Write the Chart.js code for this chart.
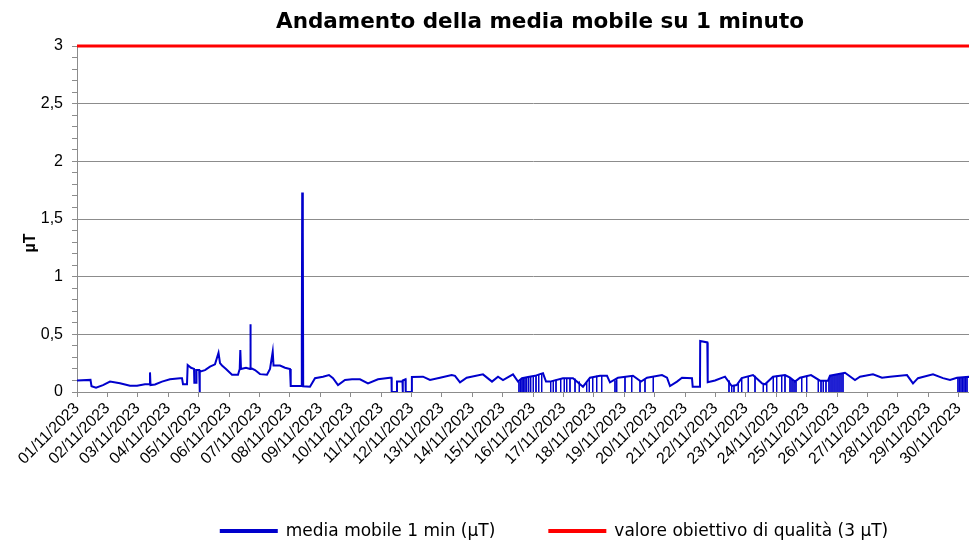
<!DOCTYPE html>
<html>
<head>
<meta charset="utf-8">
<title>Andamento della media mobile su 1 minuto</title>
<script src="https://cdn.jsdelivr.net/npm/chart.js@4.4.0/dist/chart.umd.min.js"></script>
<style>
    html, body { margin: 0; padding: 0; background: #fff; overflow: hidden; }
    #wrap { width: 969px; height: 542px; overflow: hidden; }
    canvas { display: block; }
</style>
</head>
<body>
<div id="wrap"><canvas id="chart" width="1080" height="542"></canvas></div>
<script>
// giorni trascorsi dal 01/11/2023 00:00 e media mobile 1 min (µT)
const days = [
    0, 0.444, 0.477, 0.625, 0.855, 1.086, 1.414, 1.743, 1.974, 2.237,
    2.385, 2.401, 2.418, 2.566, 2.796, 3.059, 3.388, 3.454, 3.487, 3.618,
    3.641, 3.75, 3.85, 3.86, 3.92, 3.93, 4.02, 4.03, 4.046, 4.211,
    4.375, 4.539, 4.655, 4.704, 4.770, 4.901, 5.099, 5.296, 5.352, 5.372,
    5.395, 5.559, 5.691, 5.701, 5.717, 5.855, 6.020, 6.250, 6.349, 6.438,
    6.464, 6.678, 6.842, 7.007, 7.030, 7.378, 7.395, 7.408, 7.428, 7.441,
    7.664, 7.829, 8.092, 8.289, 8.421, 8.586, 8.816, 9.046, 9.309, 9.572,
    9.901, 10.296, 10.345, 10.352, 10.516, 10.526, 10.707, 10.714, 10.720, 10.806,
    10.813, 11.010, 11.016, 11.382, 11.612, 11.941, 12.326, 12.434, 12.599, 12.819,
    13.355, 13.651, 13.849, 14.013, 14.342, 14.507, 14.638, 14.836, 15.066, 15.230,
    15.329, 15.428, 15.559, 15.987, 16.316, 16.645, 16.875, 17.204, 17.434, 17.533,
    17.796, 18.289, 18.553, 18.750, 19.243, 19.408, 19.507, 19.737, 19.901, 20.230,
    20.253, 20.493, 20.500, 20.734, 20.747, 20.987, 21.316, 21.536, 21.701, 21.865,
    22.237, 22.533, 22.632, 22.895, 23.289, 23.454, 23.618, 23.783, 24.145, 24.441,
    24.704, 24.770, 25.263, 25.592, 25.757, 26.184, 26.480, 26.743, 27.303, 27.500,
    27.664, 28.158, 28.487, 28.717, 28.947, 29.342, 29.6
];
const mediaMobile = [
    0.10, 0.105, 0.05, 0.037, 0.06, 0.09, 0.075, 0.055, 0.055, 0.067,
    0.067, 0.17, 0.06, 0.065, 0.09, 0.11, 0.12, 0.12, 0.067, 0.067,
    0.234, 0.21, 0.2, 0.08, 0.08, 0.19, 0.19, 0, 0.176, 0.19,
    0.22, 0.24, 0.34, 0.25, 0.23, 0.2, 0.15, 0.15, 0.2, 0.364,
    0.2, 0.21, 0.2, 0.587, 0.21, 0.19, 0.155, 0.15, 0.2, 0.35,
    0.23, 0.23, 0.21, 0.2, 0.052, 0.052, 0.42, 1.73, 1.38, 0.05,
    0.046, 0.12, 0.133, 0.147, 0.12, 0.06, 0.104, 0.11, 0.11, 0.075,
    0.11, 0.124, 0.124, 0, 0, 0.09, 0.09, 0, 0.1, 0.11,
    0, 0, 0.13, 0.133, 0.104, 0.124, 0.147, 0.14, 0.084, 0.124,
    0.153, 0.09, 0.133, 0.104, 0.153, 0.09, 0.12, 0.13, 0.14, 0.155,
    0.162, 0.09, 0.09, 0.12, 0.12, 0.046, 0.124, 0.141, 0.141, 0.084,
    0.124, 0.141, 0.09, 0.124, 0.147, 0.124, 0.052, 0.09, 0.124, 0.12,
    0.046, 0.046, 0.442, 0.43, 0.084, 0.1, 0.133, 0.052, 0.06, 0.12,
    0.147, 0.075, 0.067, 0.133, 0.147, 0.124, 0.09, 0.124, 0.147, 0.098,
    0.098, 0.141, 0.167, 0.104, 0.133, 0.153, 0.124, 0.133, 0.147, 0.075,
    0.12, 0.153, 0.12, 0.104, 0.124, 0.133, 0.13
];

// brevi cadute a zero (giorno, livello da cui parte la caduta)
const dropDays = [
    14.539, 14.589, 14.638, 14.681, 14.737, 14.793, 14.859, 14.924, 15.010, 15.099, 15.188, 15.286,
    15.582, 15.668, 15.757, 15.911, 16.030, 16.109, 16.217, 16.382, 16.523, 16.766, 16.852, 16.964, 17.095, 17.260,
    17.697, 17.753, 18.026, 18.247, 18.520, 18.684, 18.957,
    21.447, 21.536, 21.612, 21.753, 21.865, 22.082, 22.303, 22.576, 22.688, 22.905, 23.016, 23.181, 23.289,
    23.454, 23.520, 23.586, 23.651, 23.839, 24.003, 24.385, 24.474, 24.549, 24.638, 24.737, 24.803, 24.868,
    24.934, 25.000, 25.066, 25.132, 25.197,
    28.980, 29.030, 29.079, 29.128, 29.178, 29.227, 29.276
];
const dropLevels = [
    0.09, 0.11, 0.12, 0.12, 0.125, 0.13, 0.13, 0.135, 0.14, 0.145, 0.15, 0.155,
    0.095, 0.10, 0.105, 0.115, 0.12, 0.12, 0.12, 0.115, 0.09, 0.08, 0.11, 0.13, 0.14, 0.14,
    0.10, 0.11, 0.13, 0.14, 0.095, 0.11, 0.135,
    0.10, 0.052, 0.055, 0.07, 0.12, 0.135, 0.14, 0.075, 0.075, 0.133, 0.14, 0.145, 0.147,
    0.124, 0.11, 0.09, 0.09, 0.13, 0.14, 0.11, 0.098, 0.098, 0.098, 0.12, 0.141, 0.145,
    0.148, 0.15, 0.155, 0.16, 0.163,
    0.125, 0.125, 0.127, 0.128, 0.13, 0.13, 0.131
];

const obiettivoQualita = 3;

const dateLabels = [
    '01/11/2023', '02/11/2023', '03/11/2023', '04/11/2023', '05/11/2023', '06/11/2023',
    '07/11/2023', '08/11/2023', '09/11/2023', '10/11/2023', '11/11/2023', '12/11/2023',
    '13/11/2023', '14/11/2023', '15/11/2023', '16/11/2023', '17/11/2023', '18/11/2023',
    '19/11/2023', '20/11/2023', '21/11/2023', '22/11/2023', '23/11/2023', '24/11/2023',
    '25/11/2023', '26/11/2023', '27/11/2023', '28/11/2023', '29/11/2023', '30/11/2023'
];

const chartTitle = 'Andamento della media mobile su 1 minuto';
const yTitle = 'µT';

const BLUE = '#0000CC';
const RED = '#FF0000';
const GRID = '#8c8c8c';
const AXIS_FONT = '"Liberation Sans", Arial, sans-serif';
const TEXT_FONT = '"DejaVu Sans", sans-serif';

const lineData = days.map((d, i) => ({ x: d, y: mediaMobile[i] }));
const dropData = [];
dropDays.forEach((d, i) => {
    dropData.push({ x: d, y: dropLevels[i] }, { x: d, y: 0 }, { x: d, y: null });
});
const limitData = [{ x: 0, y: obiettivoQualita }, { x: 30, y: obiettivoQualita }];

const isMajor = v => Math.abs(v * 2 - Math.round(v * 2)) < 1e-6;

// titolo, titolo asse y e legenda disegnati a mano per rispettare le posizioni
const extras = {
    id: 'extras',
    afterDraw(chart) {
        const ctx = chart.ctx;
        ctx.save();
        ctx.fillStyle = '#000';
        ctx.textAlign = 'center';
        ctx.textBaseline = 'middle';
        ctx.font = 'bold 21.5px ' + TEXT_FONT;
        ctx.fillText(chartTitle, 540, 22);
        ctx.font = 'bold 16px ' + AXIS_FONT;
        ctx.translate(31, 243);
        ctx.rotate(-Math.PI / 2);
        ctx.fillText(yTitle, 0, 0);
        ctx.restore();

        const items = chart.data.datasets.filter(ds => ds.inLegend);
        ctx.save();
        ctx.font = '17px ' + TEXT_FONT;
        ctx.textBaseline = 'middle';
        ctx.textAlign = 'left';
        const boxW = 58, gapText = 8, gapItem = 53;
        const widths = items.map(ds => boxW + gapText + ctx.measureText(ds.label).width);
        const total = widths.reduce((a, b) => a + b, 0) + gapItem * (items.length - 1);
        let x = 554 - total / 2;
        const y = 531;
        items.forEach((ds, i) => {
            ctx.fillStyle = ds.borderColor;
            ctx.fillRect(x, y - 2, boxW, 4);
            ctx.fillStyle = '#000';
            ctx.fillText(ds.label, x + boxW + gapText, y + 1);
            x += widths[i] + gapItem;
        });
        ctx.restore();
    }
};

new Chart(document.getElementById('chart'), {
    type: 'line',
    data: {
        datasets: [
            {
                label: 'media mobile 1 min (µT)',
                data: lineData,
                borderColor: BLUE,
                backgroundColor: BLUE,
                borderWidth: 2,
                pointRadius: 0,
                tension: 0,
                inLegend: true
            },
            {
                label: 'cadute',
                data: dropData,
                borderColor: BLUE,
                borderWidth: 1,
                pointRadius: 0,
                spanGaps: false
            },
            {
                label: 'valore obiettivo di qualità (3 µT)',
                data: limitData,
                borderColor: RED,
                backgroundColor: RED,
                borderWidth: 3,
                pointRadius: 0,
                clip: 4,
                inLegend: true
            }
        ]
    },
    options: {
        responsive: false,
        animation: false,
        devicePixelRatio: 1,
        layout: { padding: { left: 0, right: 91, top: 46, bottom: 0 } },
        scales: {
            x: {
                type: 'linear',
                min: 0,
                max: 30,
                afterFit: s => { s.height = 150; },
                grid: { drawOnChartArea: false, color: GRID, tickLength: 5 },
                border: { color: GRID },
                ticks: {
                    stepSize: 1,
                    autoSkip: false,
                    minRotation: 45,
                    maxRotation: 45,
                    padding: 2,
                    color: '#000',
                    font: { family: AXIS_FONT, size: 16 },
                    callback: v => dateLabels[v] || ''
                }
            },
            y: {
                min: 0,
                max: 3,
                afterFit: s => { s.width = 77; },
                grid: {
                    color: c => isMajor(c.tick.value) ? GRID : 'rgba(0,0,0,0)',
                    tickColor: GRID,
                    tickLength: 5
                },
                border: { color: GRID },
                ticks: {
                    stepSize: 0.1,
                    autoSkip: false,
                    padding: 9,
                    color: '#000',
                    font: { family: AXIS_FONT, size: 16 },
                    callback: v => isMajor(v) ? String(Math.round(v * 10) / 10).replace('.', ',') : ''
                }
            }
        },
        plugins: {
            title: { display: false },
            legend: { display: false },
            tooltip: { enabled: false }
        }
    },
    plugins: [extras]
});
</script>
</body>
</html>
